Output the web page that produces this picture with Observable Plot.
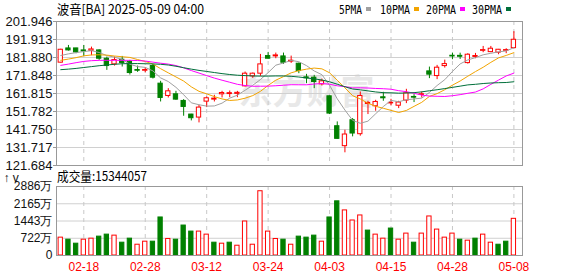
<!DOCTYPE html>
<html><head><meta charset="utf-8">
<script src="https://cdn.jsdelivr.net/npm/d3@7"></script>
<script src="https://cdn.jsdelivr.net/npm/@observablehq/plot@0.6"></script>
<style>
html,body{margin:0;padding:0;background:#fff;}
#wrap{position:relative;width:578px;height:276px;overflow:hidden;}
#wrap svg{position:absolute;left:0;}
</style></head><body><div id="wrap"></div>
<script>
const title = "波音[BA] 2025-05-09 04:00";
const volTitle = "成交量:15344057";
const dates = ["02-12","02-13","02-14","02-18","02-19","02-20","02-21","02-24","02-25","02-26",
"02-27","02-28","03-03","03-04","03-05","03-06","03-07","03-10","03-11","03-12",
"03-13","03-14","03-17","03-18","03-19","03-20","03-21","03-24","03-25","03-26",
"03-27","03-28","03-31","04-01","04-02","04-03","04-04","04-07","04-08","04-09",
"04-10","04-11","04-14","04-15","04-16","04-17","04-21","04-22","04-23","04-24",
"04-25","04-28","04-29","04-30","05-01","05-02","05-05","05-06","05-07","05-08"];
const open = [179.0,186.94,186.94,185.83,185.64,185.83,181.2,178.04,180.64,179.53,
174.9,174.5,177.12,167.3,160.44,161.37,157.66,150.07,148.4,157.29,
158.4,161.37,161.5,161.6,165.81,171.37,172.86,182.68,182.5,182.49,
179.6,178.42,170.82,170.63,166.93,160.26,143.58,132.46,146.92,139.13,
156.0,154.7,159.7,156.3,155.0,157.85,159.9,161.0,174.15,171.54,
177.1,182.85,182.8,178.77,182.2,185.6,184.88,184.55,185.6,187.1];
const high = [186.5,188.6,187.0,188.6,187.68,186.2,182.12,182.12,182.49,180.27,
177.12,176.19,178.04,168.6,164.52,163.04,158.4,150.2,155.26,159.88,
160.81,163.04,163.2,163.0,173.78,173.23,183.6,184.71,184.34,184.34,
182.66,178.78,172.49,171.93,169.89,160.4,145.99,141.36,147.84,162.66,
157.48,158.03,162.48,158.59,157.48,164.15,161.2,162.65,176.54,177.49,
180.43,184.33,184.3,183.99,184.16,188.05,188.05,186.38,186.77,196.3];
const low = [178.8,185.46,183.97,182.5,182.86,180.27,174.71,177.12,176.56,172.11,
173.6,173.4,169.89,157.1,159.33,158.03,149.14,146.54,145.43,153.96,
157.1,159.33,159.5,159.5,165.44,170.26,171.37,181.0,181.2,178.04,
178.6,172.86,167.3,164.52,166.0,150.07,136.35,128.76,137.65,138.02,
150.07,151.92,157.48,154.88,153.4,156.18,156.75,159.3,170.1,169.54,
175.99,180.66,180.8,178.2,181.2,184.55,184.55,183.43,184.0,186.77];
const close = [186.2,185.83,184.71,185.27,186.38,181.2,177.12,180.45,178.78,173.22,
174.5,174.9,170.63,159.33,163.04,158.4,154.32,148.03,153.96,159.15,
158.96,162.1,162.0,162.2,172.86,172.86,178.04,181.2,183.05,178.97,
180.1,174.34,170.26,168.22,168.6,150.62,136.54,138.95,139.5,160.44,
156.55,157.1,159.15,156.6,156.8,161.92,159.5,161.4,172.32,176.2,
178.21,182.45,182.3,183.43,182.7,186.0,186.77,186.2,186.0,191.77];
// 成交量（万）
const volume = [747,662,494,662,704,789,873,831,536,704,
451,578,578,1591,692,662,1253,1000,1000,873,
536,494,536,409,1422,451,2688,1000,691,662,
451,789,747,831,578,1591,2266,1886,1464,1675,
1042,873,704,1127,662,916,536,916,1633,1084,
747,916,662,620,704,873,536,451,578,1534];
const ma5 = [183.0,183.9,184.6,185.2,185.68,184.68,182.94,182.08,180.79,178.15,
176.81,176.37,174.41,170.52,168.48,165.26,161.14,156.62,155.55,154.77,
154.88,156.44,159.23,160.88,163.62,166.4,169.59,173.43,177.6,178.82,
180.27,179.53,177.34,174.38,172.3,166.41,158.85,152.59,146.84,145.21,
146.4,150.51,154.55,157.97,157.24,158.31,158.79,159.24,162.39,166.27,
169.53,174.12,178.3,180.52,181.82,183.38,184.24,185.02,185.53,187.35];
const ma10 = [180.3,181.0,181.8,182.8,183.3,183.4,183.2,182.7,182.3,181.92,
180.75,179.65,178.25,175.65,173.32,171.04,168.76,165.52,163.03,161.63,
160.07,158.79,157.93,158.22,159.2,160.64,163.02,166.33,169.24,171.22,
173.34,174.56,175.39,175.99,175.56,173.34,169.19,164.97,160.61,158.76,
156.4,154.68,153.57,152.41,151.23,152.36,154.65,156.9,160.18,161.75,
163.92,166.46,168.77,171.45,174.04,176.45,179.18,181.66,183.03,184.58];
const ma20 = [177.5,178.2,179.0,179.7,180.1,180.3,180.3,180.3,180.3,180.3,
180.2,179.9,179.3,178.7,178.2,177.4,176.1,174.6,173.2,171.77,
170.41,169.22,168.09,166.93,166.26,165.84,165.89,165.92,166.14,166.43,
166.71,166.68,166.66,167.1,167.38,166.99,166.1,165.65,164.93,164.99,
164.87,164.62,164.48,164.2,163.39,162.85,161.92,160.93,160.39,160.26,
160.16,160.57,161.17,161.93,162.63,164.4,166.91,169.28,171.6,173.17];
const ma30 = [175.1,175.4,175.8,176.3,176.8,177.3,177.7,178.1,178.4,178.5,
178.5,178.4,178.3,178.1,177.7,177.0,176.2,175.4,174.7,174.1,
173.5,172.9,172.4,172.0,171.8,171.6,171.5,171.5,171.6,171.59,
171.39,171.0,170.52,169.95,169.36,168.34,166.99,165.6,164.3,163.87,
163.27,162.68,162.29,162.2,162.0,162.11,162.29,162.73,163.34,163.91,
164.55,165.23,165.91,166.62,166.94,167.38,167.67,167.84,167.94,168.36];
const priceTicks = ["121.684","131.717","141.750","151.782","161.815","171.848","181.880","191.913","201.946"];
const volTicks = [0, 721.5, 1443, 2164.5, 2886];
const volTickLabels = ["0","722万","1443万","2165万","2886万"];
const xTickLabels = ["02-18","02-28","03-12","03-24","04-03","04-15","04-28","05-08"];
const maNames = ["5PMA","10PMA","20PMA","30PMA"];

const RED = "#ff0000", GREEN = "#008000";
const maColors = ["#a0a0a0","#f2a400","#ff00ff","#006f3a"];
const maSeries = [ma5, ma10, ma20, ma30];
const idx = d3.range(dates.length);
const xDomain = [-0.555, 60.12];
const xTicks = xTickLabels.map(l => dates.indexOf(l));
const yTicks = priceTicks.map(Number);
const candles = idx.map(i => ({i, o: open[i], h: high[i], l: low[i], c: close[i], up: close[i] >= open[i]}));
const vols = idx.map(i => ({i, v: volume[i], up: i === 0 ? true : close[i] >= close[i-1]}));
const hw = 0.28;
const font = "'Liberation Sans', Arial, sans-serif";

const main = Plot.plot({
  width: 578, height: 178, marginLeft: 56, marginRight: 56, marginTop: 21, marginBottom: 13,
  style: {background: "transparent", fontFamily: font, fontSize: "13px", color: "#111"},
  x: {domain: xDomain, axis: null},
  y: {domain: [yTicks[0], yTicks[yTicks.length - 1]], axis: null},
  marks: [
    Plot.text(["东方财富"], {text: d => d, frameAnchor: "middle", dx: 17, dy: 0, fontSize: 34, fontWeight: "bold", fill: "#e8e8e8", fontFamily: "'Noto Sans CJK SC', sans-serif"}),
    Plot.ruleY(yTicks, {stroke: "#d0d0d0"}),
    Plot.ruleX(xTicks, {stroke: "#c8c8c8", strokeDasharray: "4,4"}),
    Plot.axisY({ticks: yTicks, tickFormat: (d, i) => priceTicks[i], tickSize: 3, tickPadding: 1, fontSize: 13, stroke: "#999", fill: "#111"}),
    Plot.ruleX(candles, {x: "i", y1: "l", y2: "h", stroke: d => d.up ? RED : GREEN}),
    Plot.rect(candles, {x1: d => d.i - hw, x2: d => d.i + hw, y1: "o", y2: "c", fill: d => d.up ? "#ffffff" : GREEN, stroke: d => d.up ? RED : GREEN}),
    ...maSeries.map((s, k) => Plot.line(idx, {x: d => d, y: d => s[d], stroke: maColors[k], strokeWidth: 1})),
    Plot.frame({stroke: "#999"})
  ]
});
main.style.top = "0px";

const vol = Plot.plot({
  width: 578, height: 106, marginLeft: 56, marginRight: 56, marginTop: 16, marginBottom: 21,
  style: {background: "transparent", fontFamily: font, fontSize: "12px", color: "#111"},
  x: {domain: xDomain, axis: null},
  y: {domain: [0, 2886], axis: null},
  marks: [
    Plot.ruleY(volTicks, {stroke: "#d0d0d0"}),
    Plot.ruleX(xTicks, {stroke: "#c8c8c8", strokeDasharray: "4,4"}),
    Plot.rect(vols, {x1: d => d.i - hw, x2: d => d.i + hw, y1: 0, y2: "v", fill: d => d.up ? "#ffffff" : GREEN, stroke: d => d.up ? RED : GREEN}),
    Plot.frame({stroke: "#999"}),
    Plot.axisY({ticks: volTicks, tickFormat: (d, i) => volTickLabels[i], tickSize: 0, tickPadding: 4, fontSize: 12, fill: "#111"}),
    Plot.axisX({ticks: xTicks, tickFormat: i => dates[i], tickSize: 0, tickPadding: 7, fontSize: 12, fill: RED})
  ]
});
vol.style.top = "170px";

const wrap = document.getElementById("wrap");
wrap.appendChild(main);
wrap.appendChild(vol);

// overlay titles and legend
const ns = "http://www.w3.org/2000/svg";
const ov = document.createElementNS(ns, "svg");
ov.setAttribute("width", 578); ov.setAttribute("height", 276);
ov.style.top = "0px"; ov.style.pointerEvents = "none";
function txt(s, x, y, size, len, fam) {
  const t = document.createElementNS(ns, "text");
  t.setAttribute("x", x); t.setAttribute("y", y);
  t.setAttribute("font-size", size);
  t.setAttribute("font-family", fam || "'Noto Sans CJK SC', 'DejaVu Sans Mono', monospace");
  t.setAttribute("fill", "#000");
  if (len) { t.setAttribute("textLength", len); t.setAttribute("lengthAdjust", "spacingAndGlyphs"); }
  t.textContent = s;
  ov.appendChild(t);
}
txt(title, 57, 14, 13, 147);
txt(volTitle, 57, 181, 13, 90);
const legX = [339, 380, 426, 472], legW = [23, 30, 30, 30];
maNames.forEach((n, k) => {
  txt(n, legX[k], 13.5, 12, legW[k], "'DejaVu Sans Mono', monospace");
  const r = document.createElementNS(ns, "rect");
  r.setAttribute("x", legX[k] + legW[k] + 4); r.setAttribute("y", 7);
  r.setAttribute("width", 5); r.setAttribute("height", 4);
  r.setAttribute("fill", maColors[k]);
  ov.appendChild(r);
});
wrap.appendChild(ov);
</script></body></html>
